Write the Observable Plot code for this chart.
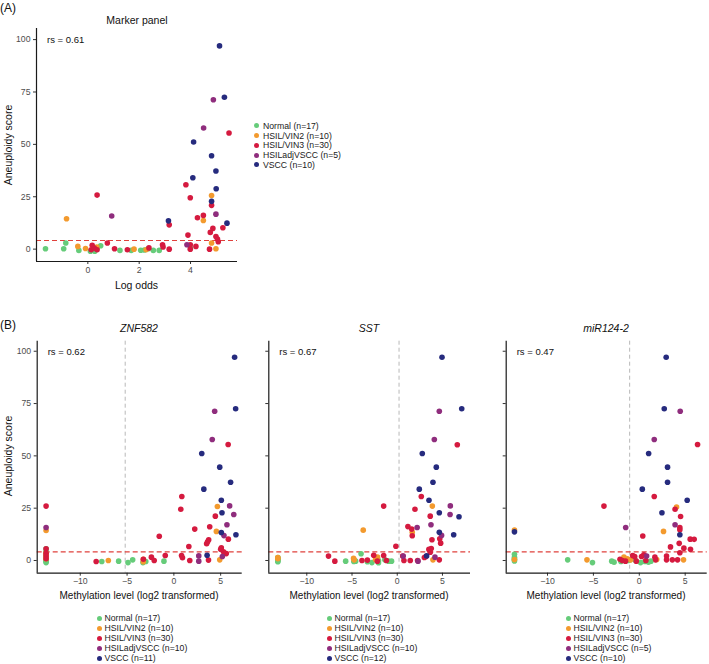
<!DOCTYPE html>
<html><head><meta charset="utf-8">
<script src="https://cdn.jsdelivr.net/npm/d3@7"></script>
<script src="https://cdn.jsdelivr.net/npm/@observablehq/plot@0.6"></script>
<style>
body{margin:0;background:#fff;font-family:"Liberation Sans",Arial,Helvetica,sans-serif;}
#root{position:relative;width:709px;height:664px;overflow:hidden;background:#fff;color:#111;}
.abs{position:absolute;white-space:nowrap;line-height:1;}
svg g[aria-label$="tick label"]{fill:#4d4d4d;}
</style></head><body><div id="root"></div>
<script>
// ---------- categories & styles ----------
const groups = ["Normal","HSIL/VIN2","HSIL/VIN3","HSILadjVSCC","VSCC"];
const groupColors = ["#66CC7A","#F39A2E","#D51A3F","#8F2D7D","#262B7E"];
const countsA = [17,10,30,5,10];
const countsZNF = [17,10,30,10,11];
const countsSST = [17,10,30,10,12];
const countsMIR = [17,10,30,5,10];
const yTicks = [0,25,50,75,100];
const xTicksA = [0,2,4];
const xTicksB = [-10,-5,0,5];
const aneuploidyCutoff = 4.1;
const cutoffZNF = -5.2, cutoffSST = 0.2, cutoffMIR = -1.05;
const rsA = "0.61", rsZNF = "0.62", rsSST = "0.67", rsMIR = "0.47";

// ---------- (A) Marker panel: [log odds, aneuploidy score] ----------
const A_normal = [[-1.65,0.2],[-0.94,0.2],[-0.86,2.9],[-0.35,-0.6],[0.1,-1],[0.27,-1],[0.5,1.6],[1.25,-0.6],[1.69,-0.6],[2.06,-0.5],[2.2,-0.4],[2.55,-0.6],[2.78,-0.6],[0.2,-0.3],[0.35,0.3],[2.35,0.2],[4.0,0.5]];
const A_vin2 = [[-0.83,14.5],[-0.39,1.3],[-0.09,0.3],[0.35,1.0],[1.8,0],[2.27,-0.3],[4.5,13.7],[4.82,25.6],[4.82,2.9],[4.99,0.2]];
const A_vin3 = [[0.36,25.8],[0.17,1.8],[0.13,-0.3],[0.36,-0.3],[0.76,2.9],[1.04,0.2],[1.54,-0.3],[2.38,0.6],[2.91,2.1],[2.93,1.0],[3.17,11.6],[3.17,0],[3.82,30.7],[3.99,24.5],[3.9,6.7],[3.99,2.1],[3.99,0],[4.21,1.3],[4.27,15],[4.5,16.1],[4.82,20.9],[4.87,9.9],[4.77,8],[4.74,0],[4.99,6],[5.05,4.8],[5.08,3.5],[5.26,10.2],[5.5,55.4],[0.25,0.5]];
const A_adj = [[4.51,57.8],[4.89,71.3],[0.93,15.8],[4.99,16.7],[3.86,2.1]];
const A_vscc = [[5.13,97],[5.32,72.5],[4.12,51.1],[4.82,44.6],[4.99,37.3],[4.09,34.1],[5.0,28.8],[4.82,22.8],[3.14,13.5],[5.42,12.4]];

// ---------- (B) ZNF582: [methylation log2, aneuploidy score] ----------
const ZNF_normal = [[-7.7,-0.5],[-5.9,-0.3],[-4.9,-1],[-4.4,0.3],[-3.3,-1],[-3.0,-0.5],[-1.06,-0.3],[-13.65,-1],[-13.65,0.8],[-13.65,2.1],[-13.65,3.5],[-13.65,5.6],[-13.65,0],[-13.65,-0.5],[-13.65,1.4],[-13.65,2.8],[-13.65,4.4]];
const ZNF_vin2 = [[-13.65,14.3],[-7.0,0],[-3.26,-0.6],[4.65,25.8],[4.54,13.9],[4.9,0.3],[-13.65,2.1],[-13.65,0.8],[-13.65,3.5],[-3.26,0.6]];
const ZNF_vin3 = [[-13.65,26],[-13.65,5.6],[-13.65,3.5],[-13.65,2.1],[-13.65,0.8],[-8.3,-0.5],[-3.26,0.6],[-2.4,1.6],[-2.1,0],[-1.56,11.6],[-0.92,2.4],[0.85,30.6],[0.74,24.5],[0.82,2.4],[0.92,1.3],[1.6,6.7],[1.7,0],[2.23,15],[3.7,0.2],[3.5,8],[3.72,9.9],[3.83,16.1],[4.43,21.2],[5.82,10.2],[5.07,6.1],[5.0,5.4],[5.6,3.3],[5.8,55.4],[5.3,4.2],[3.6,8.9]];
const ZNF_adj = [[-13.65,15.8],[4.36,71.3],[4.1,57.8],[5.96,26.1],[6.4,22],[5.67,17.1],[5.35,11.9],[2.66,2.2],[2.66,-0.3],[5.18,1.9]];
const ZNF_vscc = [[6.49,97.1],[6.6,72.5],[2.98,51.1],[4.9,44.6],[6.06,37.4],[3.2,34.1],[5.07,28.8],[5.14,22.8],[5.07,13.4],[6.63,12.3],[3.55,2.5]];

// ---------- (B) SST ----------
const SST_normal = [[-13.2,-0.6],[-13.2,0.2],[-13.2,1.0],[-13.2,1.4],[-13.2,-0.2],[-13.2,0.6],[-5.7,-0.3],[-4.8,-0.5],[-4.6,-0.3],[-4.0,3.2],[-3.3,-0.6],[-2.8,-1],[-2.07,0],[-2.07,-1.1],[-1.37,0.3],[-0.96,-0.3],[-0.63,-0.3]];
const SST_vin2 = [[-13.2,1.4],[-13.2,0.8],[-4.83,1],[-4.76,0.3],[-3.76,14.5],[-2.18,1.6],[1.66,13.5],[3.88,26],[3.95,0.3],[-2.4,0.5]];
const SST_vin3 = [[-7.6,2.1],[-6.9,-0.3],[-3.9,0],[-3.3,0.2],[-2.6,2.5],[-2.2,-0.3],[-1.5,26],[-1.5,2.4],[-1.2,0],[-0.15,6.8],[0.6,2.1],[0.74,0],[1.44,0],[1.18,16.2],[1.6,15],[1.66,11.8],[1.96,24.5],[2.66,30.6],[2.25,0],[3.0,1.4],[3.17,1.9],[3.65,4.0],[3.5,5.3],[3.76,5.7],[3.84,9.9],[3.65,21.2],[4.7,10.4],[4.8,8.3],[4.65,0.3],[6.64,55.3]];
const SST_adj = [[4.65,71.3],[4.1,57.8],[5.87,26.1],[5.84,22],[3.73,17.1],[2.2,15.8],[4.9,12],[0.66,2.1],[2.3,-0.3],[4.17,1.6]];
const SST_vscc = [[4.95,97.1],[7.13,72.5],[2.77,51.1],[4.32,44.6],[3.95,37.4],[2.44,34.1],[3.51,28.8],[4.65,22.8],[6.83,20.9],[4.65,13.5],[6.24,12.3],[3.25,2.2]];

// ---------- (B) miR124-2 ----------
const MIR_normal = [[-13.6,3.0],[-13.6,0.3],[-13.6,-0.2],[-13.6,0.8],[-13.6,1.5],[-7.8,0.3],[-5.1,-1],[-3.0,-0.3],[-2.75,-0.8],[-2.0,-0.5],[-1.2,0],[-1.0,0.3],[-0.4,0],[0.14,-1],[0.6,-0.5],[1.0,-0.8],[1.27,-0.3]];
const MIR_vin2 = [[-13.6,14.6],[-13.6,0.5],[-5.7,0.3],[-1.67,1.6],[-1.3,0.8],[-0.95,0.3],[1.9,0.5],[2.64,13.9],[4.06,25.6],[4.82,0.3]];
const MIR_vin3 = [[-3.85,26],[-2.1,0.6],[-1.85,0],[-1.5,-0.3],[-0.72,2.4],[-0.5,1.9],[-0.33,-0.3],[0.25,1.9],[0.5,2.7],[0.72,0],[0.38,11.7],[1.63,30.6],[6.35,55.4],[3.9,24.5],[4.5,21],[4.42,15.8],[4.42,14.7],[4.35,8.2],[5.55,10.2],[5.98,10.1],[3.4,6.5],[4.86,5.9],[5.58,5.4],[4.42,3.7],[1.7,1.6],[2.97,2.1],[2.97,0.3],[3.6,0.3],[4.17,0.3],[1.78,0.3]];
const MIR_adj = [[-1.48,15.8],[1.63,57.8],[4.46,71.3],[3.9,17.1],[0.8,2.1]];
const MIR_vscc = [[-13.6,13.7],[2.93,97.1],[2.72,72.5],[1.02,51.1],[3.08,44.6],[3.08,37.4],[0.33,34.1],[5.22,28.8],[2.47,22.8],[4.42,12.3]];

// ---------- helpers ----------
const root = document.getElementById("root");
function rows(sets){
  const out = [];
  sets.forEach((s,i)=>s.forEach(([x,y])=>out.push({x,y,group:groups[i]})));
  return out;
}
function addText(txt,x,y,{size=10,anchor="middle",rotate=0,italic=false,color="#111"}={}){
  const d = document.createElement("div");
  d.className="abs"; d.textContent=txt;
  d.style.fontSize=size+"px"; d.style.color=color;
  if(italic) d.style.fontStyle="italic";
  d.style.left=x+"px"; d.style.top=y+"px";
  const tx = anchor==="middle"?"-50%":anchor==="end"?"-100%":"0";
  d.style.transform=`translate(${tx},-50%)`;
  if(rotate){ d.style.transform=`translate(-50%,-50%) rotate(${rotate}deg)`; d.style.transformOrigin="50% 50%"; }
  root.appendChild(d); return d;
}
function legend(x,y,counts,{size=8.5,step=10,gap=6,r=2.6}={}){
  groups.forEach((g,i)=>{
    const dot=document.createElement("div");
    dot.className="abs";
    Object.assign(dot.style,{left:(x-r)+"px",top:(y+i*step-r)+"px",width:2*r+"px",height:2*r+"px",borderRadius:"50%",background:groupColors[i]});
    root.appendChild(dot);
    addText(`${g} (n=${counts[i]})`, x+gap, y+i*step, {size, anchor:"start", color:"#1a1a1a"});
  });
}
function panel({sets,xDomain,yDomain,xTicks,yLabels,left,top,width,height,mL,mR,mT,mB,rs,vline}){
  const data = rows(sets);
  const marks = [];
  if(vline!=null) marks.push(Plot.ruleX([vline],{stroke:"#b8b8b8",strokeWidth:1,strokeDasharray:"4,3"}));
  marks.push(Plot.ruleY([aneuploidyCutoff],{stroke:"#E0413C",strokeWidth:1.1,strokeDasharray:"5,3"}));
  marks.push(Plot.dot(data,{x:"x",y:"y",fill:"group",r:2.8}));
  marks.push(Plot.axisX({ticks:xTicks,tickSize:3,tickPadding:2,label:null,stroke:"#333"}));
  marks.push(Plot.axisY({ticks:yTicks,tickSize:3,tickPadding:3,label:null,stroke:"#333",tickFormat: yLabels ? (d=>String(d)) : (()=>"")}));
  marks.push(Plot.ruleX([xDomain[0]],{stroke:"#1a1a1a",strokeWidth:1.2}));
  marks.push(Plot.ruleY([yDomain[0]],{stroke:"#1a1a1a",strokeWidth:1.2}));
  marks.push(Plot.text([rs],{text:d=>`rs = ${d}`,frameAnchor:"top-left",textAnchor:"start",lineAnchor:"middle",dx:10.5,dy:11,fontSize:9.5,fill:"#111"}));
  const svg = Plot.plot({
    width,height,marginLeft:mL,marginRight:mR,marginTop:mT,marginBottom:mB,
    x:{domain:xDomain,label:null},
    y:{domain:yDomain,label:null},
    color:{domain:groups,range:groupColors},
    style:{fontSize:"8.7px",fontFamily:'"Liberation Sans",Arial,sans-serif',background:"transparent",overflow:"visible"},
    marks
  });
  svg.style.position="absolute"; svg.style.left=left+"px"; svg.style.top=top+"px";
  root.appendChild(svg);
}

// ---------- panel A ----------
addText("(A)",0,8,{size:12,anchor:"start"});
addText("Marker panel",137,20,{size:10.5});
panel({sets:[A_normal,A_vin2,A_vin3,A_adj,A_vscc],xDomain:[-2.0,5.83],yDomain:[-5.9,105.3],xTicks:xTicksA,yLabels:true,
  left:0,top:0,width:250,height:300,mL:36,mR:13,mT:28,mB:39,rs:rsA,vline:null});
addText("Aneuploidy score",8,145,{size:10.5,rotate:-90});
addText("Log odds",136.5,285,{size:10.5});
legend(256.7,125.7,countsA,{size:8.7,step:9.8,gap:6.3});

// ---------- panel B ----------
addText("(B)",0,325,{size:12,anchor:"start"});
const bTop=320,bH=290,bT=20.7,bB=37.3,bY=[-6.07,104.8];
panel({sets:[ZNF_normal,ZNF_vin2,ZNF_vin3,ZNF_adj,ZNF_vscc],xDomain:[-14.6,7.3],yDomain:bY,xTicks:xTicksB,yLabels:true,
  left:0,top:bTop,width:245,height:bH,mL:36.7,mR:3.3,mT:bT,mB:bB,rs:rsZNF,vline:cutoffZNF});
panel({sets:[SST_normal,SST_vin2,SST_vin3,SST_adj,SST_vscc],xDomain:[-14.2,8.1],yDomain:bY,xTicks:xTicksB,yLabels:false,
  left:245,top:bTop,width:228,height:bH,mL:23.3,mR:3,mT:bT,mB:bB,rs:rsSST,vline:cutoffSST});
panel({sets:[MIR_normal,MIR_vin2,MIR_vin3,MIR_adj,MIR_vscc],xDomain:[-14.5,7.4],yDomain:bY,xTicks:xTicksB,yLabels:false,
  left:475,top:bTop,width:234,height:bH,mL:30.7,mR:2.3,mT:bT,mB:bB,rs:rsMIR,vline:cutoffMIR});

addText("ZNF582",139,328,{size:10.5,italic:true});
addText("SST",369,328,{size:10.5,italic:true});
addText("miR124-2",606,328,{size:10.5,italic:true});
addText("Aneuploidy score",8,456,{size:10.5,rotate:-90});
const xLabelB = "Methylation level (log2 transformed)";
addText(xLabelB,139,596,{size:10}); addText(xLabelB,369,596,{size:10}); addText(xLabelB,606,596,{size:10});
legend(99,618,countsZNF,{size:8.7,step:10,gap:5.5,r:2.5});
legend(329,618,countsSST,{size:8.7,step:10,gap:5.5,r:2.5});
legend(568,618,countsMIR,{size:8.7,step:10,gap:5.5,r:2.5});
</script></body></html>
